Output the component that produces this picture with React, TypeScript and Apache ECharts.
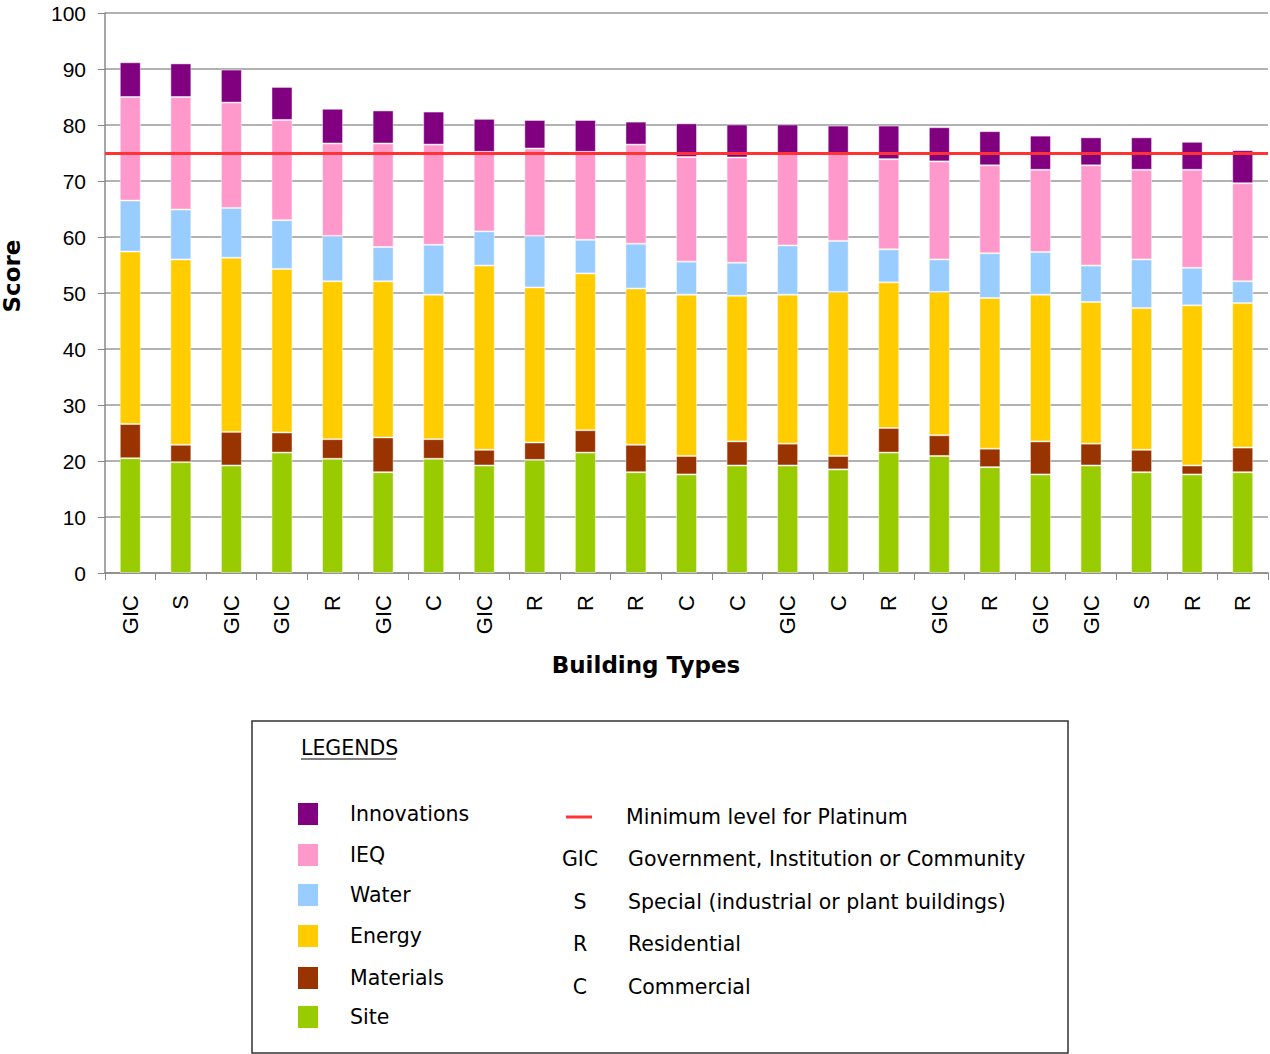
import React, { useEffect, useRef } from "react";
import * as echarts from "echarts";

const categories = ["GIC", "S", "GIC", "GIC", "R", "GIC", "C", "GIC", "R", "R", "R", "C", "C", "GIC", "C", "R", "GIC", "R", "GIC", "GIC", "S", "R", "R"];
const site = [20.5, 19.8, 19.2, 21.5, 20.4, 18.0, 20.4, 19.2, 20.2, 21.5, 18.0, 17.6, 19.2, 19.2, 18.5, 21.5, 20.9, 18.9, 17.6, 19.2, 18.0, 17.6, 18.0];
const materials = [6.1, 3.1, 6.0, 3.6, 3.5, 6.2, 3.5, 2.8, 3.1, 4.0, 4.9, 3.3, 4.3, 3.9, 2.4, 4.4, 3.7, 3.3, 5.9, 3.9, 4.0, 1.6, 4.4];
const energy = [30.8, 33.1, 31.1, 29.2, 28.2, 27.9, 25.8, 32.9, 27.7, 28.0, 27.9, 28.8, 26.0, 26.6, 29.3, 26.0, 25.6, 26.9, 26.2, 25.3, 25.3, 28.6, 25.8];
const water = [9.1, 8.9, 8.9, 8.7, 8.1, 6.1, 8.9, 6.1, 9.2, 6.0, 8.0, 5.9, 5.9, 8.8, 9.1, 5.9, 5.8, 8.0, 7.6, 6.5, 8.7, 6.7, 3.9];
const ieq = [18.5, 20.1, 18.8, 17.9, 16.5, 18.5, 17.9, 14.2, 15.6, 15.7, 17.7, 18.7, 18.8, 16.4, 15.6, 16.1, 17.5, 15.7, 14.7, 17.9, 16.0, 17.5, 17.5];
const innovations = [6.2, 6.0, 5.9, 5.9, 6.2, 5.9, 5.9, 5.9, 5.1, 5.7, 4.1, 6.0, 5.9, 5.2, 5.0, 6.0, 6.1, 6.1, 6.1, 5.0, 5.8, 5.0, 5.9];
const platinumLevel = 75;
const yTicks = { min: 0, max: 100, interval: 10 };

const seriesDefs = [
  { name: "Site", data: site, color: "#99CC00" },
  { name: "Materials", data: materials, color: "#993300" },
  { name: "Energy", data: energy, color: "#FFCC00" },
  { name: "Water", data: water, color: "#99CCFF" },
  { name: "IEQ", data: ieq, color: "#FF99CC" },
  { name: "Innovations", data: innovations, color: "#800080" },
];

const legendCats = [
  { label: "Innovations", color: "#800080" },
  { label: "IEQ", color: "#FF99CC" },
  { label: "Water", color: "#99CCFF" },
  { label: "Energy", color: "#FFCC00" },
  { label: "Materials", color: "#993300" },
  { label: "Site", color: "#99CC00" },
];
const legendTypes = [
  { code: "GIC", label: "Government, Institution or Community" },
  { code: "S", label: "Special (industrial or plant buildings)" },
  { code: "R", label: "Residential" },
  { code: "C", label: "Commercial" },
];

export default function App() {
  const ref = useRef<HTMLDivElement>(null);
  useEffect(() => {
    document.body.style.margin = "0";
    const chart = echarts.init(ref.current!, undefined, { renderer: "svg" });
    const legendFont = "DejaVu Sans";
    const legendSize = 20.5;
    const catY = [814, 855, 895, 936, 978, 1017];
    const typeY = [859, 902, 944, 987];
    const graphic: any[] = [
      { type: "rect", shape: { x: 252, y: 721, width: 816, height: 332 }, style: { fill: "#fff", stroke: "#333", lineWidth: 1.5 } },
      { type: "text", x: 301, y: 748, style: { text: "LEGENDS", fill: "#000", font: `${legendSize}px ${legendFont}`, textVerticalAlign: "middle" } },
      { type: "line", shape: { x1: 301, y1: 759, x2: 396, y2: 759 }, style: { stroke: "#000", lineWidth: 1 } },
      { type: "text", x: 12, y: 276, rotation: Math.PI / 2, style: { text: "Score", fill: "#000", font: `bold 23px DejaVu Sans`, textAlign: "center", textVerticalAlign: "middle" } },
      { type: "text", x: 646, y: 665, style: { text: "Building Types", fill: "#000", font: `bold 23px DejaVu Sans`, textAlign: "center", textVerticalAlign: "middle" } },
      { type: "line", shape: { x1: 566, y1: 817, x2: 592, y2: 817 }, style: { stroke: "#FF3333", lineWidth: 3 } },
      { type: "text", x: 626, y: 817, style: { text: "Minimum level for Platinum", fill: "#000", font: `${legendSize}px ${legendFont}`, textVerticalAlign: "middle" } },
    ];
    legendCats.forEach((c, i) => {
      graphic.push({ type: "rect", shape: { x: 298, y: catY[i] - 11, width: 20, height: 22 }, style: { fill: c.color } });
      graphic.push({ type: "text", x: 350, y: catY[i], style: { text: c.label, fill: "#000", font: `${legendSize}px ${legendFont}`, textVerticalAlign: "middle" } });
    });
    legendTypes.forEach((t, i) => {
      graphic.push({ type: "text", x: 580, y: typeY[i], style: { text: t.code, fill: "#000", font: `${legendSize}px ${legendFont}`, textAlign: "center", textVerticalAlign: "middle" } });
      graphic.push({ type: "text", x: 628, y: typeY[i], style: { text: t.label, fill: "#000", font: `${legendSize}px ${legendFont}`, textVerticalAlign: "middle" } });
    });

    chart.setOption({
      animation: false,
      backgroundColor: "#fff",
      grid: { left: 105, right: 2, top: 13, bottom: 481, containLabel: false },
      xAxis: {
        type: "category",
        data: categories,
        axisLine: { lineStyle: { color: "#888", width: 1.5 } },
        axisTick: { show: true, alignWithLabel: false, length: 7, lineStyle: { color: "#888" } },
        axisLabel: { rotate: 90, margin: 22, fontFamily: "Liberation Sans", fontSize: 22, color: "#000", interval: 0 },
      },
      yAxis: {
        type: "value",
        min: yTicks.min,
        max: yTicks.max,
        interval: yTicks.interval,
        axisLine: { show: true, lineStyle: { color: "#888", width: 1.5 } },
        axisTick: { show: true, length: 7, lineStyle: { color: "#888" } },
        axisLabel: { fontFamily: "Liberation Sans", fontSize: 21, color: "#000", margin: 19 },
        splitLine: { lineStyle: { color: "#999", width: 1.5 } },
      },
      series: seriesDefs.map((s, i) => ({
        name: s.name,
        type: "bar",
        stack: "total",
        data: s.data,
        barWidth: 21,
        itemStyle: { color: s.color, borderColor: "rgba(255,255,255,0.45)", borderWidth: 1 },
        ...(i === seriesDefs.length - 1
          ? {
              markLine: {
                silent: true,
                symbol: "none",
                label: { show: false },
                lineStyle: { color: "#FF3333", width: 3, type: "solid" },
                data: [{ yAxis: platinumLevel }],
              },
            }
          : {}),
      })),
      graphic,
    });
    return () => chart.dispose();
  }, []);
  return <div ref={ref} style={{ width: 1270, height: 1054 }} />;
}
